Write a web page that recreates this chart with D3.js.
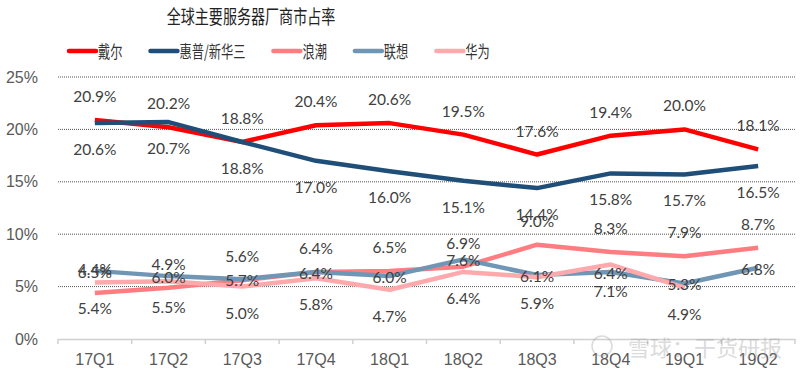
<!DOCTYPE html>
<html>
<head>
<meta charset="utf-8">
<script src="https://cdn.jsdelivr.net/npm/d3@7"></script>
<style>
    body { margin: 0; background: #fff; }
    svg { display: block; }
</style>
</head>
<body>
<div id="chart"></div>
<script>
// quarters on the x axis
const quarters = ["17Q1", "17Q2", "17Q3", "17Q4", "18Q1", "18Q2", "18Q3", "18Q4", "19Q1", "19Q2"];

// market share, %
const dell = [20.9, 20.2, 18.8, 20.4, 20.6, 19.5, 17.6, 19.4, 20.0, 18.1];
const hpe = [20.6, 20.7, 18.8, 17.0, 16.0, 15.1, 14.4, 15.8, 15.7, 16.5];
const inspur = [4.4, 4.9, 5.6, 6.4, 6.5, 6.9, 9.0, 8.3, 7.9, 8.7];
const lenovo = [6.5, 6.0, 5.7, 6.4, 6.0, 7.6, 6.1, 6.4, 5.3, 6.8];
const huawei = [5.4, 5.5, 5.0, 5.8, 4.7, 6.4, 5.9, 7.1, 4.9, null];

const yTicks = [0, 5, 10, 15, 20, 25];

const series = [
    {name: "戴尔", values: dell, color: "#FF0000", labelPos: "above"},
    {name: "惠普/新华三", values: hpe, color: "#1F4E79", labelPos: "below"},
    {name: "浪潮", values: inspur, color: "#FF7C80", labelPos: "above"},
    {name: "联想", values: lenovo, color: "#7096B6", labelPos: "center"},
    {name: "华为", values: huawei, color: "#FFA9AD", labelPos: "below"}
];

const width = 800, height = 377;
const margin = {top: 77, right: 5, bottom: 38, left: 58};

const svg = d3.select("#chart").append("svg")
    .attr("width", width)
    .attr("height", height);

const x = d3.scaleBand()
    .domain(quarters)
    .range([margin.left, width - margin.right]);

const y = d3.scaleLinear()
    .domain([0, 25])
    .range([height - margin.bottom, margin.top]);

// title (the source font is narrow, so squeeze it a bit)
svg.append("text")
    .attr("transform", "translate(251,16) scale(0.74,1)")
    .attr("text-anchor", "middle")
    .attr("dominant-baseline", "central")
    .attr("font-family", "Noto Sans CJK SC")
    .attr("font-size", 19)
    .attr("fill", "#222")
    .text("全球主要服务器厂商市占率");

// gridlines
svg.append("g")
    .selectAll("line")
    .data(yTicks.filter(d => d > 0))
    .join("line")
    .attr("x1", margin.left)
    .attr("x2", width - margin.right)
    .attr("y1", d => y(d))
    .attr("y2", d => y(d))
    .attr("stroke", "#555")
    .attr("stroke-width", 1)
    .attr("stroke-dasharray", "1,1");

// y axis labels
const yAxis = svg.append("g")
    .attr("transform", "translate(" + (margin.left - 17) + ",0)")
    .call(d3.axisLeft(y).tickValues(yTicks).tickFormat(d => d + "%").tickSize(0));
yAxis.select(".domain").remove();
yAxis.selectAll("text")
    .attr("font-family", "Liberation Sans, Arial")
    .attr("font-size", 16)
    .attr("fill", "#595959");

// x axis
const xAxis = svg.append("g")
    .attr("transform", "translate(0," + y(0) + ")")
    .call(d3.axisBottom(x).tickSize(0).tickPadding(15));
xAxis.select(".domain").attr("stroke", "#D0D0D0").attr("stroke-width", 1.5);
xAxis.selectAll("text")
    .attr("font-family", "Liberation Sans, Arial")
    .attr("font-size", 16)
    .attr("fill", "#595959");

// tick marks between categories
const boundaries = quarters.map(q => x(q)).concat([x(quarters[quarters.length - 1]) + x.bandwidth()]);
xAxis.selectAll(".bound")
    .data(boundaries)
    .join("line")
    .attr("class", "bound")
    .attr("x1", d => d)
    .attr("x2", d => d)
    .attr("y1", 0)
    .attr("y2", 5)
    .attr("stroke", "#D0D0D0")
    .attr("stroke-width", 1.5);

// lines
const line = d3.line()
    .defined(d => d != null)
    .x((d, i) => x(quarters[i]) + x.bandwidth() / 2)
    .y(d => y(d));

svg.append("g")
    .selectAll("path")
    .data(series)
    .join("path")
    .attr("d", d => line(d.values))
    .attr("fill", "none")
    .attr("stroke", d => d.color)
    .attr("stroke-width", 4.5)
    .attr("stroke-linejoin", "round");

// data labels
const offsets = {above: -24, below: 26, center: 1};
series.forEach(s => {
    svg.append("g")
        .selectAll("text")
        .data(s.values.map((v, i) => ({v: v, q: quarters[i]})).filter(d => d.v != null))
        .join("text")
        .attr("x", d => x(d.q) + x.bandwidth() / 2)
        .attr("y", d => y(d.v) + offsets[s.labelPos])
        .attr("text-anchor", "middle")
        .attr("dominant-baseline", "central")
        .attr("font-family", "Lato, sans-serif")
        .attr("font-size", 15.5)
        .attr("fill", "#404040")
        .text(d => d.v.toFixed(1) + "%");
});

// legend
const legend = svg.append("g").attr("transform", "translate(69,51)");
let lx = 0;
series.forEach(s => {
    const item = legend.append("g").attr("transform", "translate(" + lx + ",0)");
    item.append("line")
        .attr("x1", 0).attr("x2", 27)
        .attr("y1", 0).attr("y2", 0)
        .attr("stroke", s.color)
        .attr("stroke-width", 4.5)
        .attr("stroke-linecap", "round");
    const t = item.append("text")
        .attr("transform", "translate(29,0) scale(0.72,1)")
        .attr("dominant-baseline", "central")
        .attr("font-family", "Noto Sans CJK SC")
        .attr("font-size", 17)
        .attr("fill", "#333")
        .text(s.name);
    lx += 29 + t.node().getComputedTextLength() * 0.72 + 28;
});

// watermark
svg.append("text")
    .attr("x", 782)
    .attr("y", 346)
    .attr("text-anchor", "end")
    .attr("dominant-baseline", "central")
    .attr("font-family", "Noto Sans CJK SC")
    .attr("font-size", 22)
    .attr("fill", "#999")
    .attr("opacity", 0.35)
    .text("雪球：干货研报");
svg.append("circle")
    .attr("cx", 602).attr("cy", 346).attr("r", 10)
    .attr("fill", "none")
    .attr("stroke", "#999")
    .attr("stroke-width", 1.5)
    .attr("opacity", 0.35);
</script>
</body>
</html>
